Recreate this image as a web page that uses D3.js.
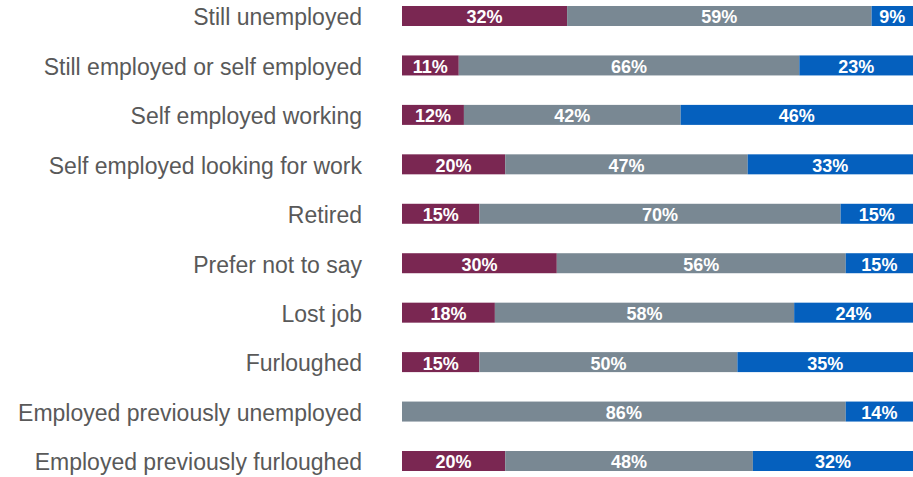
<!DOCTYPE html>
<html><head><meta charset="utf-8">
<script src="https://cdn.jsdelivr.net/npm/d3@7"></script>
<style>html,body{margin:0;padding:0;background:#fff;overflow:hidden}</style>
</head><body>
<svg id="chart" width="913" height="477"></svg>
<script>
const categories = ["Still unemployed","Still employed or self employed","Self employed working","Self employed looking for work","Retired","Prefer not to say","Lost job","Furloughed","Employed previously unemployed","Employed previously furloughed"];
const seriesNames = ["Worse","Same","Better"];
const worse  = [32, 11, 12, 20, 15, 30, 18, 15, 0, 20];
const same   = [59, 66, 42, 47, 70, 56, 58, 50, 86, 48];
const better = [9, 23, 46, 33, 15, 15, 24, 35, 14, 32];
const colors = ["#7A2752", "#798893", "#0560BE"];

const svg = d3.select("#chart");
const x = d3.scaleLinear().domain([0, 100]).range([402, 918]);
const y = d3.scaleBand().domain(categories).range([6, 471]).paddingInner(0.5955).paddingOuter(0);

const rows = categories.map((c, i) => ({cat: c, vals: [worse[i], same[i], better[i]]}));
const stack = d3.stack().keys([0,1,2]).value((d, k) => d.vals[k]);
const stacked = stack(rows);

const g = svg.append("g");
stacked.forEach((layer, k) => {
  const lg = g.append("g");
  lg.selectAll("rect").data(layer).join("rect")
    .attr("x", d => x(d[0]))
    .attr("y", d => y(d.data.cat))
    .attr("width", d => x(d[1]) - x(d[0]))
    .attr("height", y.bandwidth())
    .attr("fill", colors[k]);
  lg.selectAll("text").data(layer.filter(d => d[1] - d[0] > 0)).join("text")
    .attr("x", d => (x(d[0]) + Math.min(x(d[1]), 913)) / 2)
    .attr("y", d => y(d.data.cat) + y.bandwidth() / 2 + 1)
    .attr("dy", "0.36em")
    .attr("text-anchor", "middle")
    .attr("font-family", "Liberation Sans, Arial, sans-serif")
    .attr("font-weight", "bold")
    .attr("font-size", 18)
    .attr("fill", "#fff")
    .text(d => (d[1] - d[0]) + "%");
});

svg.append("g").selectAll("text").data(categories).join("text")
  .attr("x", 362)
  .attr("y", d => y(d) + y.bandwidth() / 2 + 1)
  .attr("dy", "0.36em")
  .attr("text-anchor", "end")
  .attr("font-family", "Liberation Sans, Arial, sans-serif")
  .attr("font-size", 23)
  .attr("fill", "#595959")
  .text(d => d);
</script>
</body></html>
